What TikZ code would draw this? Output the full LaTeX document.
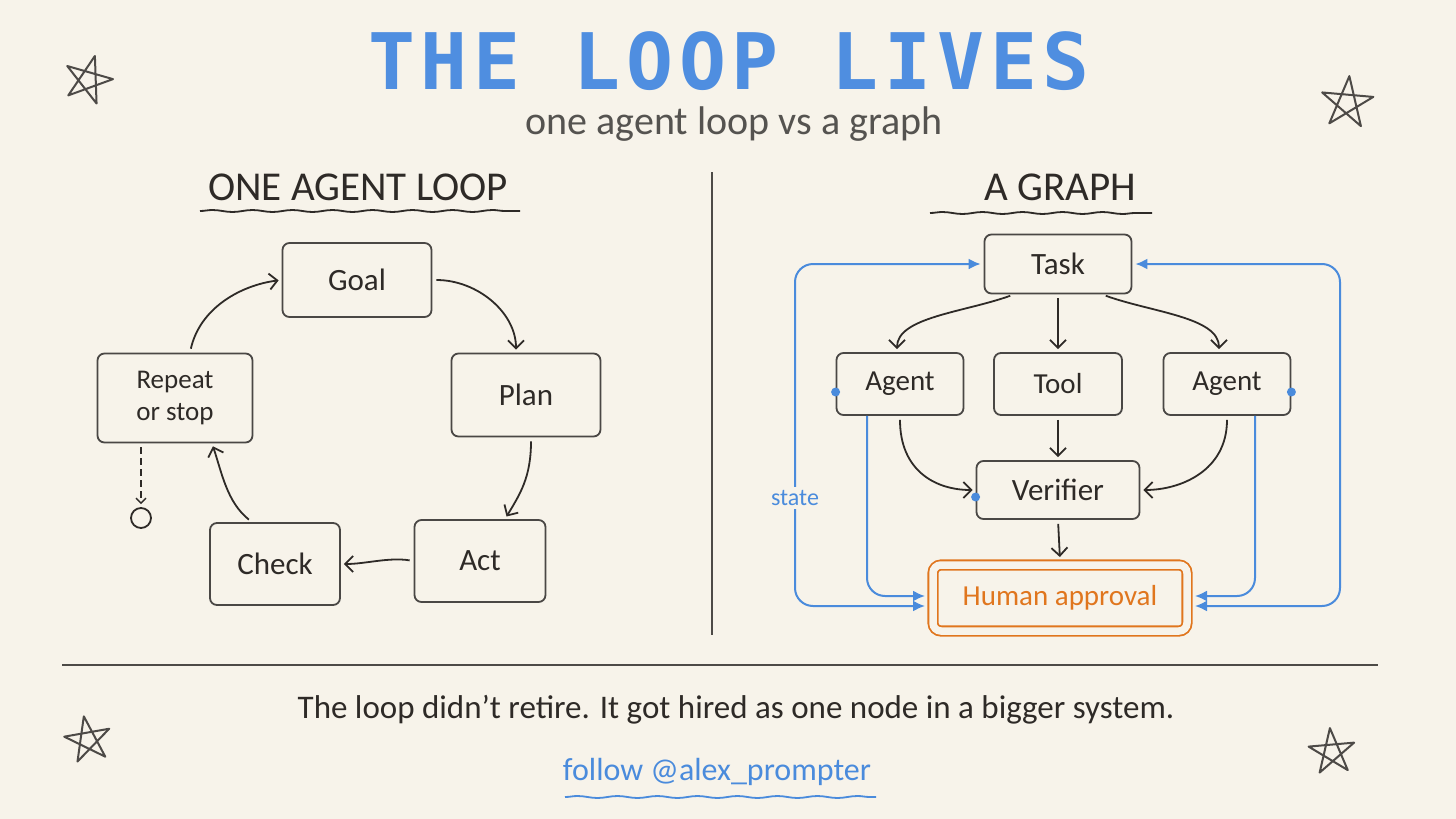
\documentclass[tikz,border=0pt]{standalone}
\usepackage{fontspec}
\setmainfont{Carlito}
\newfontfamily\titlefont[LetterSpace=7.5]{DejaVu Sans Mono}
\usetikzlibrary{positioning,arrows.meta,decorations.pathmorphing}
\definecolor{paper}{HTML}{F7F3EA}
\definecolor{ink}{HTML}{2E2A27}
\definecolor{boxgray}{HTML}{4A4745}
\definecolor{subgray}{HTML}{555350}
\definecolor{lineblue}{HTML}{4A8BDC}
\definecolor{titleblue}{HTML}{4F8EE0}
\definecolor{approval}{HTML}{E0761E}
\newcommand{\fs}[1]{\fontsize{#1}{#1}\selectfont}

\tikzset{
  box/.style={draw=boxgray, line width=1.8pt, rounded corners=7pt, align=center,
    text=ink, font=\fs{31}},
  arr/.style={draw=ink, line width=1.8pt, -{Straight Barb[length=8pt,width=16pt]},
    shorten <=4pt, shorten >=3pt},
  flow/.style={draw=lineblue, line width=2pt, rounded corners=18pt,
    -{Latex[length=12pt,width=11pt]}, shorten >=3pt},
  stateflow/.style={flow, {Latex[length=12pt,width=11pt]}-{Latex[length=12pt,width=11pt]},
    shorten <=3pt},
  wavy/.style={line width=1.8pt, decorate,
    decoration={snake, amplitude=1pt, segment length=40pt}},
  starline/.style={draw=ink!85, line width=2pt, line join=round},
  port/.style={fill=lineblue}
}

\begin{document}
\begin{tikzpicture}[x=1pt, y=-1pt]
            \fill[paper] (0,0) rectangle (1456,819);
            \useasboundingbox (0,0) rectangle (1456,819);

            %Title
            \node[font=\titlefont\bfseries\fs{78}, text=titleblue] at (729,61) (title) {THE LOOP LIVES};
            \node[font=\fs{40}, text=subgray] at (734,124) (sub) {one agent loop vs a graph};

            %Stars
            \draw[starline, shift={(88,80)}, rotate=20] (90:25) -- (234:25) -- (18:25) -- (162:25) -- (306:25) -- cycle;
            \draw[starline, shift={(1347,103)}, rotate=175] (90:27) -- (234:27) -- (18:27) -- (162:27) -- (306:27) -- cycle;
            \draw[starline, shift={(88,740)}, rotate=190] (90:24) -- (234:24) -- (18:24) -- (162:24) -- (306:24) -- cycle;
            \draw[starline, shift={(1332,752)}, rotate=185] (90:24) -- (234:24) -- (18:24) -- (162:24) -- (306:24) -- cycle;

            %Headings
            \node[font=\fs{41}, text=ink] at (358,187) (headL) {ONE AGENT LOOP};
            \node[font=\fs{41}, text=ink] at (1060,187) (headR) {A GRAPH};
            \draw[wavy, ink] (200,211) -- (520,211);
            \draw[wavy, ink] (930,213) -- (1152,213);
            \draw[ink!85, line width=1.8pt] (712,172) -- (712,635);

            %Nodes (loop)
            \node[box, minimum width=149pt, minimum height=74pt] at (357,280) (goal) {Goal};
            \node[box, minimum width=149pt, minimum height=83pt] at (526,395) (plan) {Plan};
            \node[box, minimum width=131pt, minimum height=82pt] at (480,561) (act) {Act};
            \node[box, minimum width=130pt, minimum height=82pt] at (275,564) (check) {Check};
            \node[box, minimum width=155pt, minimum height=89pt, font=\fontsize{27}{32}\selectfont] at (175,398) (repeat) {Repeat\\or stop};
            \node[draw=ink, circle, line width=1.8pt, minimum size=20pt, inner sep=0pt] at (141,518) (stop) {};

            %Lines (loop)
            \draw[arr] (goal.east) .. controls +(45,0) and +(0,-40) .. ([xshift=-10pt]plan.north);
            \draw[arr] ([xshift=5pt]plan.south) .. controls +(0,40) and +(15,-25) .. ([xshift=25pt]act.north);
            \draw[arr] (act.west) .. controls +(-25,-4) and +(25,0) .. (check.east);
            \draw[arr] ([xshift=-23pt]check.north) .. controls +(-25,-20) and +(10,30) .. ([xshift=37pt]repeat.south);
            \draw[arr] ([xshift=15pt]repeat.north) .. controls +(10,-45) and +(-40,5) .. (goal.west);
            \draw[arr, dash pattern=on 7pt off 4pt, line width=1.4pt, -{Straight Barb[length=5pt,width=10pt]}] ([xshift=-34pt]repeat.south) -- (stop.north);

            %Nodes (graph)
            \node[box, minimum width=147pt, minimum height=59pt] at (1058,264) (task) {Task};
            \node[box, minimum width=127pt, minimum height=62pt, font=\fs{29}] at (900,384) (agentA) {Agent};
            \node[box, minimum width=128pt, minimum height=62pt, font=\fs{29}] at (1058,384) (tool) {Tool};
            \node[box, minimum width=127pt, minimum height=62pt, font=\fs{29}] at (1227,384) (agentB) {Agent};
            \node[box, minimum width=163pt, minimum height=58pt] at (1058,490) (verifier) {Verifier};
            \node[draw=approval, double=paper, double distance=7.5pt, line width=1.8pt, rounded corners=8pt,
              minimum width=254pt, minimum height=66pt, text=approval, font=\fs{29}, outer sep=5pt] at (1060,598) (human) {Human approval};

            %Lines (graph)
            \draw[arr] ([xshift=-44pt]task.south) .. controls +(-50,18) and +(0,-35) .. ([xshift=-3pt]agentA.north);
            \draw[arr] (task.south) -- (tool.north);
            \draw[arr] ([xshift=44pt]task.south) .. controls +(50,18) and +(0,-35) .. ([xshift=-8pt]agentB.north);
            \draw[arr] (agentA.south) .. controls +(0,55) and +(-40,0) .. (verifier.west);
            \draw[arr] (tool.south) -- (verifier.north);
            \draw[arr] (agentB.south) .. controls +(0,55) and +(40,0) .. (verifier.east);
            \draw[arr] (verifier.south) -- (human.north);

            %State lines
            \draw[flow] ([xshift=-33pt]agentA.south) |- ([yshift=2pt]human.west);
            \draw[flow] ([xshift=28pt]agentB.south) |- ([yshift=2pt]human.east);
            \draw[stateflow] ([yshift=-8pt]human.west) -| (795,264) -- (task.west);
            \draw[stateflow] ([yshift=-8pt]human.east) -| (1340,264) -- (task.east);
            \node[fill=paper, text=lineblue, font=\fs{24}, inner sep=3pt] at (795,498) (state) {state};
            \fill[port] ([yshift=-8pt]agentA.west) circle (4.5pt);
            \fill[port] ([yshift=-8pt]agentB.east) circle (4.5pt);
            \fill[port] ([yshift=-7pt]verifier.west) circle (4.5pt);

            %Footer
            \draw[ink!85, line width=1.8pt] (62,665) -- (1378,665);
            \node[font=\fs{33}, text=ink] at (736,710) (moral) {The loop didn’t retire. It got hired as one node in a bigger system.};
            \node[font=\fs{32}, text=lineblue] at (717,772) (follow) {follow @alex\_prompter};
            \draw[wavy, lineblue] (565,797) -- (876,797);
        \end{tikzpicture}
\end{document}
